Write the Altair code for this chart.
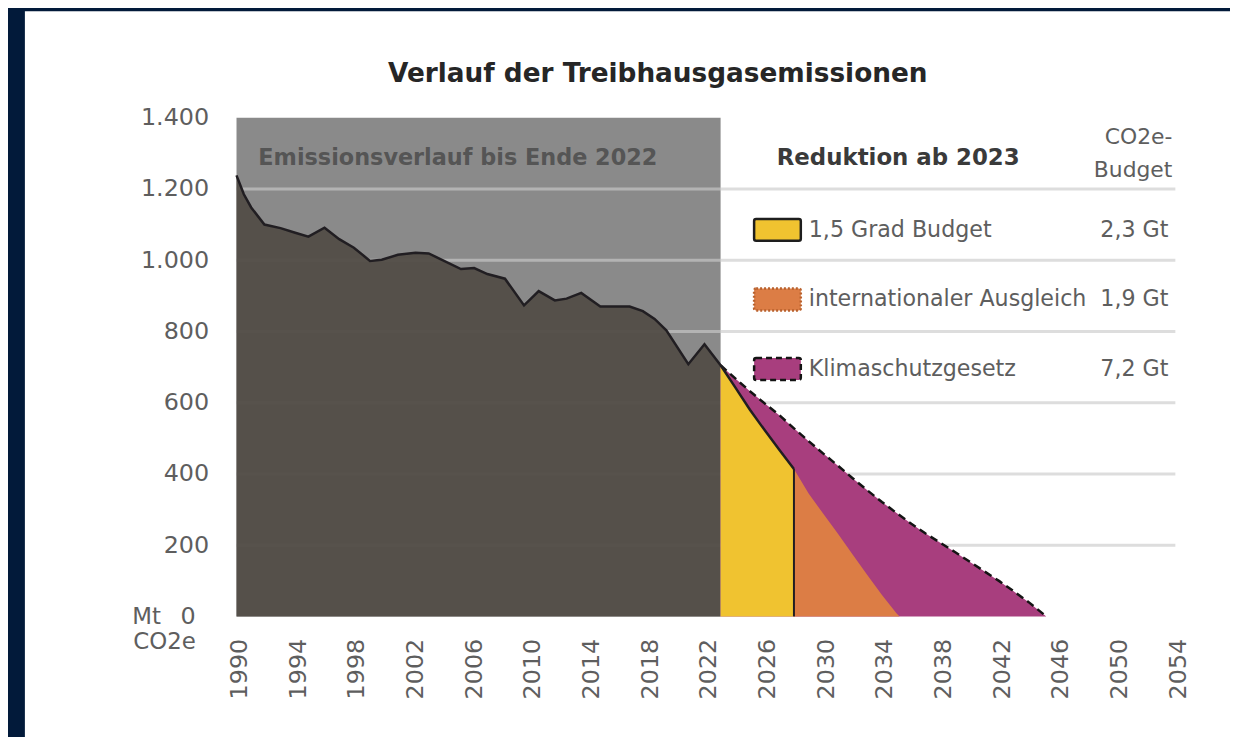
import altair as alt
import pandas as pd

# ---------------- data ----------------
hist_years = [1990.0, 1990.5, 1991.0, 1991.9, 1993.0, 1994.0, 1994.9, 1996.0, 1997.0,
              1998.0, 1999.1, 1999.9, 2001.0, 2002.2, 2003.1, 2003.9, 2005.3, 2006.2,
              2007.1, 2008.3, 2009.6, 2010.6, 2011.7, 2012.5, 2013.5, 2014.8, 2016.8,
              2017.7, 2018.5, 2019.3, 2020.8, 2021.9, 2023.0]
hist_values = [1238, 1185, 1148, 1100, 1090, 1077, 1066, 1091, 1059,
               1035, 998, 1001, 1015, 1021, 1019, 1003, 975, 978,
               961, 948, 873, 913, 887, 892, 908, 870, 870,
               857, 835, 803, 708, 764, 705]

hist_period = [1990, 2023]          # grey block "Emissionsverlauf bis Ende 2022"
hist_block_top = 1400

budget15_years = [2023, 2024, 2025, 2026, 2027, 2028]
budget15_values = [705, 643, 580, 523, 468, 414]

intl_years = [2028, 2029, 2030, 2031, 2032, 2033, 2034, 2035, 2035.2]
intl_values = [414, 345, 288, 232, 174, 116, 60, 8, 0]

ksg_years = [2023, 2024, 2025, 2026, 2027, 2028, 2029, 2030, 2031, 2032, 2033, 2034,
             2035, 2036, 2037, 2038, 2039, 2040, 2041, 2042, 2043, 2044, 2045.2]
ksg_values = [705, 668, 632, 598, 565, 528, 492, 457, 423, 388, 354, 321,
              290, 260, 232, 206, 180, 153, 126, 99, 70, 40, 0]

x_ticks = list(range(1990, 2055, 4))
y_ticks = [0, 200, 400, 600, 800, 1000, 1200, 1400]
grid_values = [200, 400, 600, 800, 1000, 1200]

legend_labels = ["1,5 Grad Budget", "internationaler Ausgleich", "Klimaschutzgesetz"]
legend_budgets = ["2,3 Gt", "1,9 Gt", "7,2 Gt"]

title_text = "Verlauf der Treibhausgasemissionen"
hist_text = "Emissionsverlauf bis Ende 2022"
reduction_text = "Reduktion ab 2023"
budget_header = ["CO2e-", "Budget"]
unit_text = ["Mt", "CO2e"]
zero_label = "0"

# ---------------- styles ----------------
FONT = "DejaVu Sans"
NAVY = "#021a3a"
GREY_BLOCK = "#8a8a8a"
DARK = "#534e48"
YELLOW = "#f0c330"
ORANGE = "#dc7d45"
MAGENTA = "#a83e7e"
LINE = "#211e22"
LABEL = "#5e5e5e"

W, H = 945, 502

xs = alt.Scale(domain=[1990, 2054], nice=False, zero=False)
ys = alt.Scale(domain=[0, 1400], nice=False)

xaxis = alt.Axis(values=x_ticks, format="d", labelAngle=270, labelFont=FONT,
                 labelFontSize=24, labelColor=LABEL, labelPadding=22, labelOffset=3,
                 ticks=False, domain=False, grid=False, title=None, labelOverlap=False,
                 labelFlush=False, zindex=2)
# the zero label is set together with the unit ("Mt 0 / CO2e") below
yaxis = alt.Axis(values=y_ticks,
                 labelExpr="datum.value == 0 ? '' : replace(format(datum.value, ','), ',', '.')",
                 labelFont=FONT, labelFontSize=24, labelColor=LABEL, labelPadding=28,
                 ticks=False, domain=False, grid=False, title=None, labelFlush=False,
                 zindex=2)


def X(f):
    return alt.X(f"{f}:Q", scale=xs, axis=xaxis)


def Y(f):
    return alt.Y(f"{f}:Q", scale=ys, axis=yaxis)


dummy = alt.Data(values=[{}])

hist = pd.DataFrame({"year": hist_years, "val": hist_values})
b15 = pd.DataFrame({"year": budget15_years, "val": budget15_values})
intl = pd.DataFrame({"year": intl_years, "val": intl_values})
ksg = pd.DataFrame({"year": ksg_years, "val": ksg_values})

# white panel behind the chart
panel = alt.Chart(dummy).mark_rect(color="white").encode(
    x=alt.value(-213), x2=alt.value(1100), y=alt.value(-107), y2=alt.value(700))

block = alt.Chart(pd.DataFrame({"x": [hist_period[0]], "x2": [hist_period[1]],
                                "y": [0], "y2": [hist_block_top]})).mark_rect(
    color=GREY_BLOCK).encode(x=X("x"), x2="x2", y=Y("y"), y2="y2")

grid_left = alt.Chart(pd.DataFrame({"g": grid_values, "a": hist_period[0], "b": hist_period[1]})
                      ).mark_rule(color="#b3b3b3", strokeWidth=3).encode(
    x=X("a"), x2="b", y=Y("g"))
grid_right = alt.Chart(pd.DataFrame({"g": grid_values, "a": hist_period[1], "b": xs.domain[1]})
                       ).mark_rule(color="#dddddd", strokeWidth=3).encode(
    x=X("a"), x2="b", y=Y("g"))

hist_area = alt.Chart(hist).mark_area(color=DARK, opacity=0.96).encode(x=X("year"), y=Y("val"))
ksg_area = alt.Chart(ksg).mark_area(color=MAGENTA).encode(x=X("year"), y=Y("val"))
intl_area = alt.Chart(intl).mark_area(color=ORANGE).encode(x=X("year"), y=Y("val"))
b15_area = alt.Chart(b15).mark_area(color=YELLOW).encode(x=X("year"), y=Y("val"))

ksg_line = alt.Chart(ksg).mark_line(color="#141414", strokeWidth=2.5, strokeDash=[8, 5]).encode(
    x=X("year"), y=Y("val"))
b15_line = alt.Chart(b15).mark_line(color=LINE, strokeWidth=2.5).encode(x=X("year"), y=Y("val"))
b15_edge = alt.Chart(pd.DataFrame({"year": [budget15_years[-1]], "lo": [0],
                                   "hi": [budget15_values[-1]]})).mark_rule(
    color=LINE, strokeWidth=2).encode(x=X("year"), y=Y("lo"), y2="hi")
hist_line = alt.Chart(hist).mark_line(color=LINE, strokeWidth=2.5).encode(x=X("year"), y=Y("val"))


def txt(text, x, y, size=22, bold=False, color=LABEL, align="left"):
    return alt.Chart(dummy).mark_text(text=text, font=FONT, fontSize=size,
                                      fontWeight="bold" if bold else "normal",
                                      color=color, align=align, baseline="middle").encode(
        x=alt.value(x), y=alt.value(y))


texts = [
    txt(title_text, 424, -44, size=26.5, bold=True, color="#262626", align="center"),
    txt(hist_text, 22, 41, size=22.5, bold=True, color="#555555"),
    txt(reduction_text, 666, 41, size=23, bold=True, color="#3a3a3a", align="center"),
    txt(budget_header[0], 942, 20, size=22, align="right"),
    txt(budget_header[1], 942, 53, size=22, align="right"),
    txt(unit_text[0], -105, 503, size=23),
    txt(zero_label, -41, 503, size=24, align="right"),
    txt(unit_text[1], -41, 528, size=23, align="right"),
]

legend_layers = []
swatch_styles = [
    dict(fill=YELLOW, stroke="#1e1e1e", strokeWidth=2.5),
    dict(fill=ORANGE, stroke="#b9612d", strokeWidth=2.5, strokeDash=[2, 2]),
    dict(fill=MAGENTA, stroke="#141414", strokeWidth=2.5, strokeDash=[6, 4]),
]
for i, (lab, bud) in enumerate(zip(legend_labels, legend_budgets)):
    yc = 113 + 70 * i
    legend_layers.append(
        alt.Chart(dummy).mark_rect(cornerRadius=2, **swatch_styles[i]).encode(
            x=alt.value(521), x2=alt.value(568), y=alt.value(yc - 11), y2=alt.value(yc + 11)))
    legend_layers.append(txt(lab, 576, yc, size=22.3))
    legend_layers.append(txt(bud, 938, yc, size=22.3, align="right"))

chart = alt.layer(
    panel, block, grid_left, grid_right, hist_area, ksg_area, intl_area, b15_area,
    ksg_line, b15_line, b15_edge, hist_line, *texts, *legend_layers
).properties(
    width=W, height=H,
    padding={"left": 230, "top": 108, "right": 55, "bottom": 119},
    autosize=alt.AutoSizeParams(type="none"),
    background=NAVY,
).configure_view(stroke=None)

chart.save("out.html", embed_options={"renderer": "svg", "actions": False})
